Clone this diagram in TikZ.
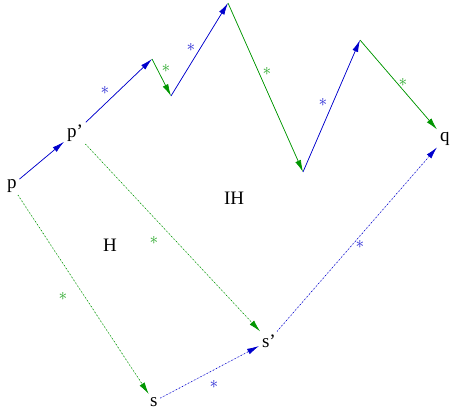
\documentclass[tikz,border=0pt]{standalone}
\usepackage{fontspec}
\setmainfont{Liberation Serif}
\usetikzlibrary{arrows.meta}
\definecolor{cblue}{RGB}{0,0,204}
\definecolor{cgreen}{RGB}{0,150,0}
\begin{document}
\begin{tikzpicture}[x=1pt,y=-1pt,
  lbl/.style={inner sep=0pt, outer sep=3pt, anchor=base west, font=\fontsize{19}{22}\selectfont},
  tip/.style={-{Latex[length=12pt,width=6pt]}},
  bl/.style={tip, draw=cblue, fill=cblue, line width=0.7pt},
  gr/.style={tip, draw=cgreen, fill=cgreen, line width=0.7pt},
  dotline/.style={dash pattern=on 0.9pt off 2.6pt},
  bstar/.style={inner sep=0pt, text=cblue!85, font=\fontsize{17}{20}\selectfont},
  gstar/.style={inner sep=0pt, text=cgreen!85, font=\fontsize{17}{20}\selectfont}]
\useasboundingbox (0,0) rectangle (451,410);
% labels
\node[lbl] (p) at (4,188) {p};
\node[lbl] (pp) at (64,137) {p’};
\node[lbl] (s) at (147,406) {s};
\node[lbl] (sp) at (259,347) {s’};
\node[lbl] (q) at (437,141) {q};
\node[lbl] (H) at (100,251) {H};
\node[lbl] (IH) at (221,204) {IH};
% zigzag corners
\coordinate (a) at (152,59);
\coordinate (b) at (171,96);
\coordinate (c) at (228,3);
\coordinate (d) at (303,172);
\coordinate (e) at (360,40);
% solid path
\draw[bl] (p) -- (pp);
\draw[bl] (pp) -- (a);
\draw[gr] (a) -- (b);
\draw[bl] (b) -- (c);
\draw[gr] (c) -- (d);
\draw[bl] (d) -- (e);
\draw[gr] (e) -- (q);
% dotted paths
\draw[gr, dotline] (p) -- (s);
\draw[gr, dotline] (pp) -- (sp);
\draw[bl, dotline] (s) -- (sp);
\draw[bl, dotline] (sp) -- (q);
% stars
\node[bstar] (st1) at (105,90) {$\ast$};
\node[gstar] (st2) at (166,68) {$\ast$};
\node[bstar] (st3) at (191,47) {$\ast$};
\node[gstar] (st4) at (267,71) {$\ast$};
\node[bstar] (st5) at (323,102) {$\ast$};
\node[gstar] (st6) at (403,82) {$\ast$};
\node[gstar] (st7) at (63,296) {$\ast$};
\node[gstar] (st8) at (154,240) {$\ast$};
\node[bstar] (st9) at (214,384) {$\ast$};
\node[bstar] (st10) at (360,244) {$\ast$};
\end{tikzpicture}
\end{document}
